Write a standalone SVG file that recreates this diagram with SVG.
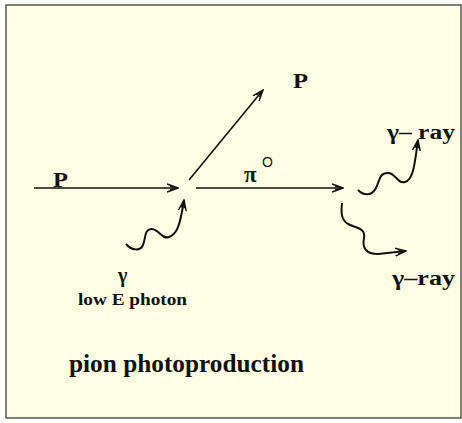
<svg xmlns="http://www.w3.org/2000/svg" width="462" height="423" viewBox="0 0 462 423">
<style>
.ln{stroke:#111;stroke-width:1.6;fill:none}
.wv{stroke:#111;stroke-width:2;fill:none}
.lb{font-family:"Liberation Serif",serif;font-weight:bold;fill:#111}
</style>
<defs>
<marker id="ah" viewBox="0 0 12 10" refX="11" refY="5" markerWidth="12" markerHeight="10" markerUnits="userSpaceOnUse" orient="auto">
<path d="M0,1 L11,5 L0,9 M3,3 L11,5 L3,7" stroke="#111" stroke-width="1.4" fill="none"/>
</marker>
</defs>
<rect x="0" y="0" width="462" height="423" fill="#fff"/>
<rect x="6" y="5" width="455" height="413" fill="#fefee2" stroke="#555" stroke-width="1.5"/>
<g id="connectors">
<path class="ln" d="M34,188 L178,188" marker-end="url(#ah)"/>
<path class="ln" d="M196,188 L343,188" marker-end="url(#ah)"/>
<path class="ln" d="M189,180 L263,90" marker-end="url(#ah)"/>
<path class="wv" d="M126,244 C131,250 140,252 143,245 C146,238 144,230 151,229 C158,228 162,240 169,237 C177,234 180,226 184,200" marker-end="url(#ah)"/>
<path class="wv" d="M358,190 C364,196 372,196 376,188 C380,180 379,173 388,173 C396,173 397,184 405,182 C414,180 415,160 418,140" marker-end="url(#ah)"/>
<path class="wv" d="M342,203 C341,212 341,220 348,224 C356,228 366,228 364,238 C362,248 366,254 378,254 L406,251" marker-end="url(#ah)"/>
</g>
<g id="p-in"><text class="lb" x="53" y="187" font-size="20" textLength="15" lengthAdjust="spacingAndGlyphs">P</text></g>
<g id="p-out"><text class="lb" x="293" y="88" font-size="20" textLength="15" lengthAdjust="spacingAndGlyphs">P</text></g>
<g id="pi0"><text class="lb" x="244" y="182" font-size="23">π</text><text x="262" y="167" font-size="14" style="font-family:'Liberation Sans',sans-serif;fill:#111">O</text></g>
<g id="gamma-in"><text class="lb" x="118" y="282" font-size="20">γ</text><text class="lb" x="78" y="305" font-size="16" textLength="109" lengthAdjust="spacingAndGlyphs">low E photon</text></g>
<g id="gamma-ray1"><text class="lb" x="387" y="139" font-size="20" textLength="68" lengthAdjust="spacingAndGlyphs">γ– ray</text></g>
<g id="gamma-ray2"><text class="lb" x="392" y="285" font-size="20" textLength="63" lengthAdjust="spacingAndGlyphs">γ–ray</text></g>
<g id="title"><text class="lb" x="69" y="372" font-size="26" textLength="235" lengthAdjust="spacingAndGlyphs">pion photoproduction</text></g>
</svg>
